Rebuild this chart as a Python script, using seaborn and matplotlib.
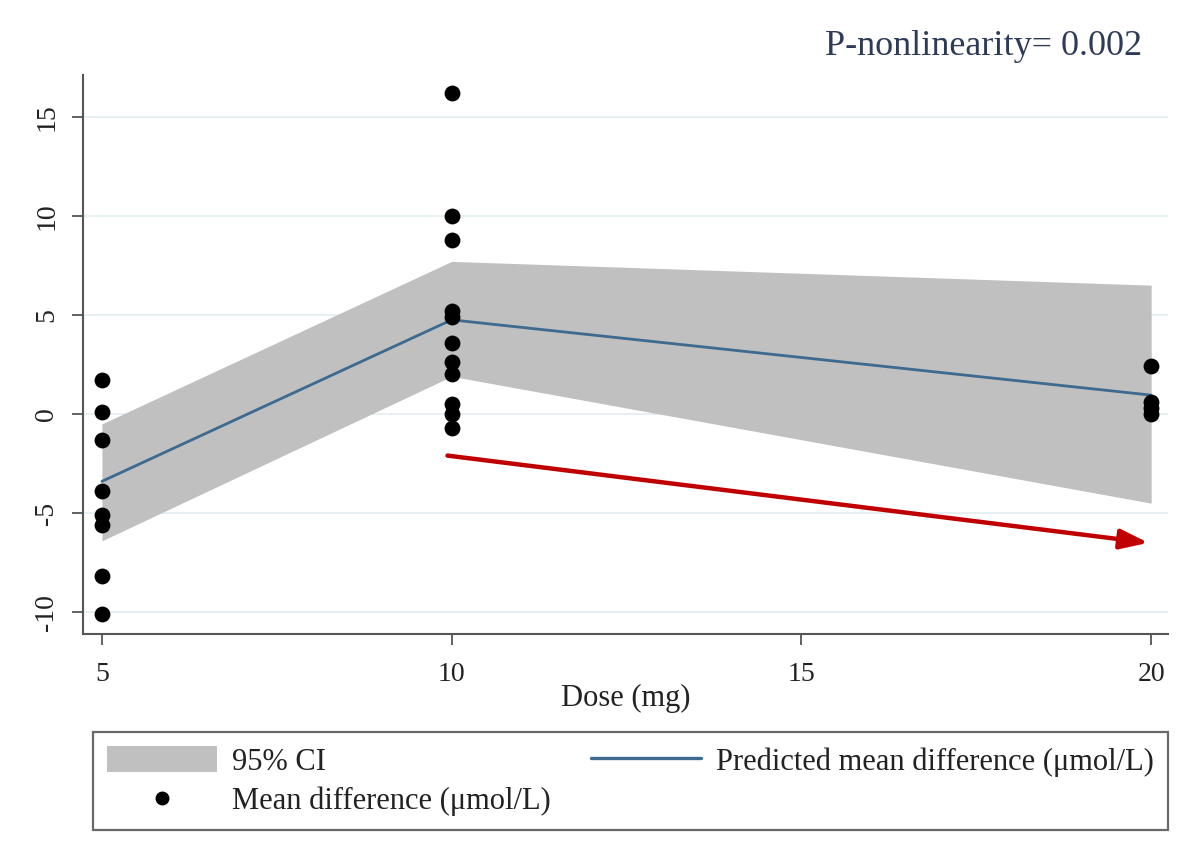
import matplotlib
matplotlib.use("Agg")
import matplotlib.pyplot as plt
import seaborn as sns
import pandas as pd
from matplotlib.patches import Patch
from matplotlib.lines import Line2D

# ---- data ----
dose_5_values = [1.7, 0.1, -1.3, -3.9, -5.1, -5.6, -8.2, -10.1]
dose_10_values = [16.2, 10.0, 8.8, 5.2, 4.9, 3.6, 2.6, 2.0, 0.5, 0.0, -0.7]
dose_20_values = [2.4, 0.6, 0.3, 0.0]

fit_dose = [5, 10, 20]
fit_pred = [-3.4, 4.75, 0.95]
fit_lower = [-6.4, 1.9, -4.5]
fit_upper = [-0.5, 7.7, 6.5]

arrow_start = (9.94, -2.1)
arrow_end = (19.96, -6.5)

x_ticks = [5, 10, 15, 20]
y_ticks = [-10, -5, 0, 5, 10, 15]
p_text = "P-nonlinearity= 0.002"

points = pd.DataFrame({
    "dose": [5] * len(dose_5_values) + [10] * len(dose_10_values) + [20] * len(dose_20_values),
    "value": dose_5_values + dose_10_values + dose_20_values,
})
fit = pd.DataFrame({"dose": fit_dose, "pred": fit_pred, "lo": fit_lower, "hi": fit_upper})

# ---- style ----
sns.set_style("white")
plt.rcParams["font.family"] = ["Liberation Serif", "DejaVu Serif"]

ci_color = "#c0c0c0"
line_color = "#3d6a8e"
axis_color = "#555555"
text_color = "#222222"

fig = plt.figure(figsize=(12, 8.63), dpi=100)
ax = fig.add_axes([0.0692, 0.2654, 0.9733 - 0.0692, 0.913 - 0.2654])

# gridlines
for yv in y_ticks:
    ax.axhline(yv, color="#e4eef0", lw=1.3, zorder=0)

ax.fill_between(fit["dose"], fit["lo"], fit["hi"], color=ci_color, lw=0, zorder=1)
sns.lineplot(data=fit, x="dose", y="pred", ax=ax, color=line_color, lw=2, zorder=2)
sns.scatterplot(data=points, x="dose", y="value", ax=ax, color="black", s=130,
                edgecolor="black", linewidth=0, zorder=3)

ax.annotate("", xy=arrow_end, xytext=arrow_start,
            arrowprops=dict(arrowstyle="-|>,head_length=1.7,head_width=0.6",
                            color="#c00000", lw=3.2, shrinkA=0, shrinkB=0),
            zorder=4)

ax.set_xlim(4.73, 20.24)
ax.set_ylim(-11.1, 17.1)
ax.set_xticks(x_ticks)
ax.set_yticks(y_ticks)
ax.set_xticklabels([str(t) for t in x_ticks], fontsize=20, color=text_color)
ax.set_yticklabels([str(t) for t in y_ticks], fontsize=20, color=text_color,
                   rotation=90, va="center")
ax.tick_params(axis="x", length=8, width=1.3, color=axis_color, direction="out",
               bottom=True, pad=12)
ax.tick_params(axis="y", length=8, width=1.3, color=axis_color, direction="out",
               left=True, pad=9)
ax.set_xlabel("Dose (mg)", fontsize=22, color=text_color, labelpad=-2)
ax.set_ylabel("")

for side in ["top", "right"]:
    ax.spines[side].set_visible(False)
for side in ["left", "bottom"]:
    ax.spines[side].set_color(axis_color)
    ax.spines[side].set_linewidth(1.5)

fig.text(0.952, 0.946, p_text, fontsize=26, color="#2e3b58", ha="right", va="center")

handles = [
    Patch(facecolor=ci_color, edgecolor="none", label="95% CI"),
    Line2D([], [], marker="o", color="black", lw=0, markersize=9, label="Mean difference (μmol/L)"),
    Line2D([], [], color=line_color, lw=2.4, label="Predicted mean difference (μmol/L)"),
]
leg = fig.legend(handles=handles, loc="lower left",
                 bbox_to_anchor=(0.0775, 0.038, 0.973 - 0.0775, 0.114),
                 mode="expand", ncol=2, fontsize=22, frameon=True, fancybox=False,
                 edgecolor="#444444", handlelength=3.6, handleheight=0.95,
                 borderaxespad=0, labelspacing=0.3, handletextpad=0.5,
                 borderpad=0.45)
leg.get_frame().set_linewidth(1.6)
for t in leg.get_texts():
    t.set_color(text_color)

fig.savefig("out.png", dpi=100, facecolor="white")
